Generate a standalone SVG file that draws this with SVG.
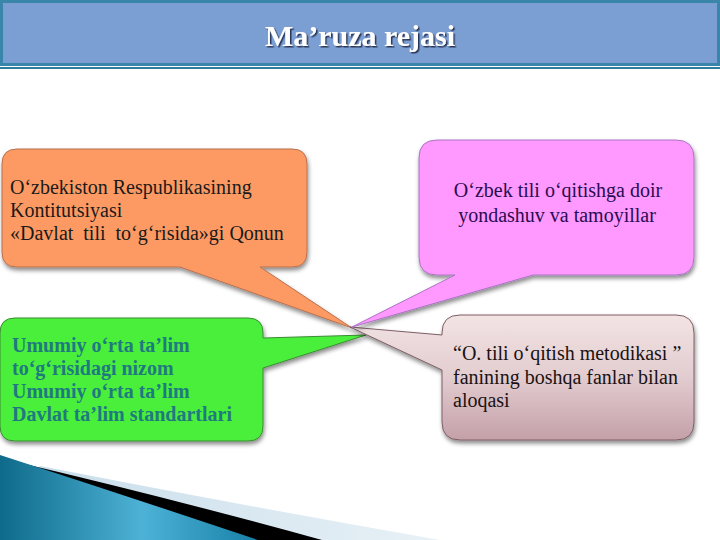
<svg xmlns="http://www.w3.org/2000/svg" width="720" height="540" viewBox="0 0 720 540">
  <defs>
    <filter id="sh" x="-10%" y="-10%" width="120%" height="130%">
      <feDropShadow dx="1" dy="3" stdDeviation="2" flood-color="#000" flood-opacity="0.45"/>
    </filter>
    <filter id="tsh" x="-5%" y="-20%" width="110%" height="150%">
      <feDropShadow dx="1.5" dy="1.5" stdDeviation="0.6" flood-color="#1c2c4a" flood-opacity="0.9"/>
    </filter>
    <linearGradient id="rose" x1="0" y1="0" x2="0" y2="1">
      <stop offset="0" stop-color="#f3e4e4"/>
      <stop offset="0.5" stop-color="#e2cccf"/>
      <stop offset="1" stop-color="#c4a0a8"/>
    </linearGradient>
    <linearGradient id="blue" x1="0" y1="0" x2="1" y2="0">
      <stop offset="0" stop-color="#0e6a8a"/>
      <stop offset="0.55" stop-color="#4db2d6"/>
      <stop offset="1" stop-color="#1880a8"/>
    </linearGradient>
    <linearGradient id="pale" x1="0" y1="0" x2="1" y2="0">
      <stop offset="0" stop-color="#c6dcea"/>
      <stop offset="1" stop-color="#e8f1f6"/>
    </linearGradient>
  </defs>
  <style>
    .t { font-family: "Liberation Serif", "Times New Roman", serif; font-size: 20px; }
    .box { filter: url(#sh); stroke-width: 1; }
  </style>

  <rect width="720" height="540" fill="#ffffff"/>

  <!-- header -->
  <g id="header">
    <rect x="1.5" y="1.5" width="717" height="63" fill="#7c9fd3" stroke="#3a86aa" stroke-width="3"/>
    <line x1="0" y1="68" x2="720" y2="68" stroke="#2f7d9e" stroke-width="2"/>
    <text x="360" y="46" text-anchor="middle" font-family="'Liberation Serif', 'Times New Roman', serif" font-size="30" font-weight="bold" fill="#ffffff" filter="url(#tsh)">Ma’ruza rejasi</text>
  </g>

  <!-- bottom swoosh -->
  <g id="swoosh">
    <path d="M 40,466 Q 240,505 440,540 L 0,540 Z" fill="url(#pale)"/>
    <path d="M 8,460 Q 170,498 322,540 L 0,540 Z" fill="#000000"/>
    <path d="M 0,455 Q 130,497 258,540 L 0,540 Z" fill="url(#blue)"/>
  </g>

  <g id="connectors"></g>

  <g id="node-green">
    <path class="box" filter="url(#sh)" d="M 15,318 H 248 Q 263,318 263,333 V 338 L 366,335 L 263,368 V 426 Q 263,441 248,441 H 15 Q 0,441 0,426 V 333 Q 0,318 15,318 Z" fill="#48ef3a" stroke="#3c8c32"/>
    <g class="t" font-family="'Liberation Serif', 'Times New Roman', serif" font-size="20" font-weight="bold" fill="#1f7a80">
      <text x="12" y="352">Umumiy o‘rta ta’lim</text>
      <text x="12" y="375">to‘g‘risidagi nizom</text>
      <text x="12" y="398">Umumiy o‘rta ta’lim</text>
      <text x="12" y="421">Davlat ta’lim standartlari</text>
    </g>
  </g>

  <g id="node-orange">
    <path class="box" filter="url(#sh)" d="M 17,149 H 292 Q 307,149 307,164 V 252 Q 307,267 292,267 H 260 L 352,328 L 180,267 H 17 Q 2,267 2,252 V 164 Q 2,149 17,149 Z" fill="#fd9a64" stroke="#b8704e"/>
    <g class="t" font-family="'Liberation Serif', 'Times New Roman', serif" font-size="20" fill="#1a1a1a">
      <text x="10" y="194">O‘zbekiston Respublikasining</text>
      <text x="10" y="217">Kontitutsiyasi</text>
      <text x="10" y="240" xml:space="preserve">«Davlat  tili  to‘g‘risida»gi Qonun</text>
    </g>
  </g>

  <g id="node-rose">
    <path class="box" filter="url(#sh)" d="M 460,315 H 676 Q 694,315 694,333 V 422 Q 694,440 676,440 H 460 Q 442,440 442,422 V 370 L 350,327 L 442,335 V 333 Q 442,315 460,315 Z" fill="url(#rose)" stroke="#7e5e66"/>
    <g class="t" font-family="'Liberation Serif', 'Times New Roman', serif" font-size="20" fill="#1a1212">
      <text x="453" y="360">“O. tili o‘qitish metodikasi ”</text>
      <text x="453" y="384">fanining boshqa fanlar bilan</text>
      <text x="453" y="407">aloqasi</text>
    </g>
  </g>

  <g id="node-pink">
    <path class="box" filter="url(#sh)" d="M 437,140 H 676 Q 694,140 694,158 V 257 Q 694,275 676,275 H 533 L 352,327 L 455,275 H 437 Q 419,275 419,257 V 158 Q 419,140 437,140 Z" fill="#ff99ff" stroke="#a874c4"/>
    <g class="t" font-family="'Liberation Serif', 'Times New Roman', serif" font-size="20" fill="#2a0c52" text-anchor="middle">
      <text x="558" y="197">O‘zbek tili o‘qitishga doir</text>
      <text x="557" y="222">yondashuv va tamoyillar</text>
    </g>
  </g>
</svg>
